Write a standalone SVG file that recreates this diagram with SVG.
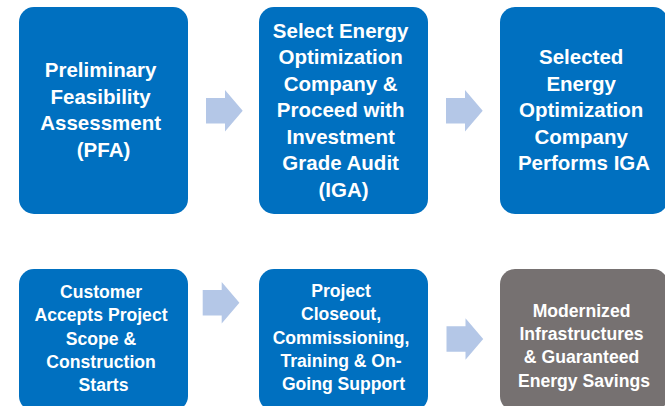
<svg xmlns="http://www.w3.org/2000/svg" width="665" height="406" viewBox="0 0 665 406">
  <style>
    .box { fill: #0070C0; }
    .box.final { fill: #767171; }
    .lbl { fill: #FFFFFF; font-family: "Liberation Sans", Arial, sans-serif; font-weight: bold; text-anchor: middle; }
    .big { font-size: 20.5px; }
    .small { font-size: 17.6px; }
    .arrow { fill: #B4C7E7; }
  </style>
  <defs>
    <!-- block arrow, origin at the tail, vertically centred -->
    <path id="blockArrow" class="arrow" d="M0,-12.8 H19 V-20.8 L36.7,0 L19,20.8 V12.8 H0 Z"/>
  </defs>

  <rect width="665" height="406" fill="#FFFFFF"/>

  <g id="connectors">
    <use href="#blockArrow" x="206" y="110.8"/>
    <use href="#blockArrow" x="446" y="110.8"/>
    <use href="#blockArrow" x="202.7" y="302.7"/>
    <use href="#blockArrow" x="446.5" y="339"/>
  </g>

  <g id="pfa">
    <rect class="box" x="19" y="7" width="169" height="207" rx="15"/>
    <text class="lbl big">
      <tspan x="103.5" y="77.3">Preliminary</tspan>
      <tspan x="103.5" y="103.8">Feasibility</tspan>
      <tspan x="103.5" y="130.3">Assessment</tspan>
      <tspan x="103.5" y="156.8">(PFA)</tspan>
    </text>
  </g>

  <g id="select-company">
    <rect class="box" x="259" y="7" width="169" height="207" rx="15"/>
    <text class="lbl big">
      <tspan x="343.5" y="37.5">Select Energy</tspan>
      <tspan x="343.5" y="64">Optimization</tspan>
      <tspan x="343.5" y="90.5">Company &amp;</tspan>
      <tspan x="343.5" y="117">Proceed with</tspan>
      <tspan x="343.5" y="143.5">Investment</tspan>
      <tspan x="343.5" y="170">Grade Audit</tspan>
      <tspan x="343.5" y="196.5">(IGA)</tspan>
    </text>
  </g>

  <g id="perform-iga">
    <rect class="box" x="500" y="7" width="168" height="207" rx="15"/>
    <text class="lbl big">
      <tspan x="584" y="64">Selected</tspan>
      <tspan x="584" y="90.5">Energy</tspan>
      <tspan x="584" y="117">Optimization</tspan>
      <tspan x="584" y="143.5">Company</tspan>
      <tspan x="584" y="170">Performs IGA</tspan>
    </text>
  </g>

  <g id="construction">
    <rect class="box" x="19" y="269" width="169" height="142" rx="15"/>
    <text class="lbl small">
      <tspan x="103.5" y="298">Customer</tspan>
      <tspan x="103.5" y="321.3">Accepts Project</tspan>
      <tspan x="103.5" y="344.6">Scope &amp;</tspan>
      <tspan x="103.5" y="367.9">Construction</tspan>
      <tspan x="103.5" y="391.2">Starts</tspan>
    </text>
  </g>

  <g id="closeout">
    <rect class="box" x="259" y="269" width="169" height="142" rx="15"/>
    <text class="lbl small">
      <tspan x="343.5" y="297">Project</tspan>
      <tspan x="343.5" y="320.3">Closeout,</tspan>
      <tspan x="343.5" y="343.6">Commissioning,</tspan>
      <tspan x="343.5" y="366.9">Training &amp; On-</tspan>
      <tspan x="343.5" y="390.2">Going Support</tspan>
    </text>
  </g>

  <g id="savings">
    <rect class="box final" x="500" y="269" width="168" height="142" rx="15"/>
    <text class="lbl small">
      <tspan x="584" y="316.7">Modernized</tspan>
      <tspan x="584" y="340">Infrastructures</tspan>
      <tspan x="584" y="363.3">&amp; Guaranteed</tspan>
      <tspan x="584" y="386.6">Energy Savings</tspan>
    </text>
  </g>
</svg>
